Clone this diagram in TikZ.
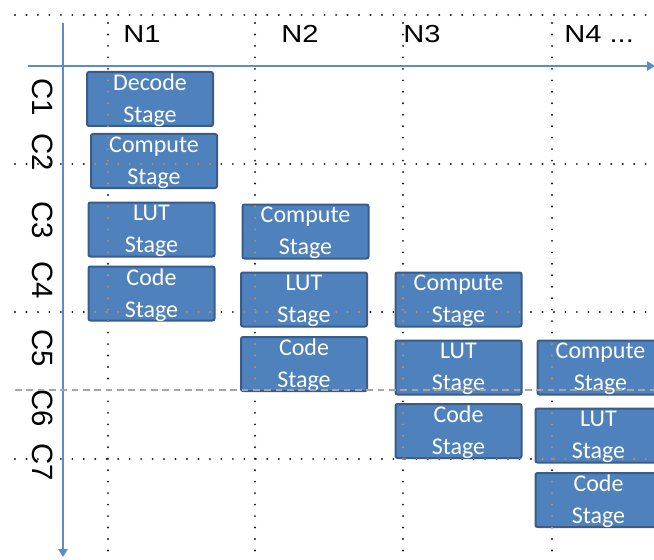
\documentclass[tikz,border=0pt]{standalone}
\usepackage{fontspec}
\setmainfont{Liberation Sans}
\newfontfamily\boxfont{Carlito}
\usetikzlibrary{arrows.meta}
\definecolor{boxfill}{HTML}{4F81BD}
\definecolor{boxedge}{HTML}{385D8A}
\definecolor{axisc}{HTML}{5B8CCB}
\definecolor{gridc}{HTML}{1A1A1A}
\definecolor{gridov}{HTML}{C49052}
\definecolor{dashc}{HTML}{A6A6A6}
\newcommand{\mygrid}[1]{%
  \draw[dotline,#1] (15,15) -- (654,15);
  \draw[dotline,#1] (15,164) -- (654,164);
  \draw[dotline,#1] (15,312) -- (654,312);
  \draw[dotline,#1] (15,459) -- (654,459);
  \foreach \gx in {108,255,403,552} \draw[dotline,#1] (\gx,23) -- (\gx,560);
}
\begin{document}
\begin{tikzpicture}[x=0.75pt,y=-0.75pt,
  dotline/.style={line width=1.6pt,dash pattern=on 0pt off 8.6pt,line cap=round},
  stagebox/.style={draw=boxedge,fill=boxfill,line width=1.5pt,rounded corners=1.5pt,
    minimum width=94.5pt,minimum height=40.5pt,inner sep=0pt},
  stagetext/.style={text=white,align=center,inner sep=0pt,yshift=-1pt,
    font=\boxfont\fontsize{18}{24}\selectfont},
  axisline/.style={draw=axisc,line width=1.5pt,-{Triangle[width=7pt,length=6pt]}},
  nlabel/.style={font=\fontsize{18.5}{20}\selectfont,anchor=base west,inner sep=0pt,xscale=1.18},
  clabel/.style={font=\fontsize{22}{24}\selectfont,rotate=-90,inner sep=0pt}]
\useasboundingbox (0,0) rectangle (654,560);
\clip (0,0) rectangle (654,560);
\fill[white] (0,0) rectangle (654,560);

% background dotted grid
\mygrid{gridc}

% axes
\coordinate (hx0) at (28,66);
\coordinate (hx1) at (655,66);
\coordinate (vy0) at (63,23);
\coordinate (vy1) at (63,557);
\draw[axisline] (hx0) -- (hx1);
\draw[axisline] (vy0) -- (vy1);

% column labels
\node[nlabel] (n1) at (123,43) {N1};
\node[nlabel] (n2) at (281,43) {N2};
\node[nlabel] (n3) at (403,43) {N3};
\node[nlabel] (n4) at (564,43) {N4 ...};

% row labels
\node[clabel] (c1) at (43,97) {C1};
\node[clabel] (c2) at (43,152) {C2};
\node[clabel] (c3) at (43,220) {C3};
\node[clabel] (c4) at (43,280) {C4};
\node[clabel] (c5) at (43,348) {C5};
\node[clabel] (c6) at (43,408) {C6};
\node[clabel] (c7) at (43,462) {C7};

% stage boxes
\node[stagebox] (dec)  at (150,99)    {};
\node[stagebox] (cmp1) at (154,161)   {};
\node[stagebox] (lut1) at (151.5,229.5) {};
\node[stagebox] (cod1) at (151.5,293.5) {};
\node[stagebox] (cmp2) at (305.5,231.5) {};
\node[stagebox] (lut2) at (304,299.5) {};
\node[stagebox] (cod2) at (304,364)   {};
\node[stagebox] (cmp3) at (458.5,299.5) {};
\node[stagebox] (lut3) at (458.5,367.5) {};
\node[stagebox] (cod3) at (458.5,431) {};
\node[stagebox] (cmp4) at (600.5,367.5) {};
\node[stagebox] (lut4) at (598.5,435.5) {};
\node[stagebox] (cod4) at (598.5,500) {};

% grid dots seen over the boxes
\begin{scope}
  \clip (dec.south west) rectangle (dec.north east)
        (cmp1.south west) rectangle (cmp1.north east)
        (lut1.south west) rectangle (lut1.north east)
        (cod1.south west) rectangle (cod1.north east)
        (cmp2.south west) rectangle (cmp2.north east)
        (lut2.south west) rectangle (lut2.north east)
        (cod2.south west) rectangle (cod2.north east)
        (cmp3.south west) rectangle (cmp3.north east)
        (lut3.south west) rectangle (lut3.north east)
        (cod3.south west) rectangle (cod3.north east)
        (cmp4.south west) rectangle (cmp4.north east)
        (lut4.south west) rectangle (lut4.north east)
        (cod4.south west) rectangle (cod4.north east);
  \mygrid{gridov}
\end{scope}

% stage texts
\node[stagetext] (dect)  at (dec)  {Decode\\Stage};
\node[stagetext] (cmp1t) at (cmp1) {Compute\\Stage};
\node[stagetext] (lut1t) at (lut1) {LUT\\Stage};
\node[stagetext] (cod1t) at (cod1) {Code\\Stage};
\node[stagetext] (cmp2t) at (cmp2) {Compute\\Stage};
\node[stagetext] (lut2t) at (lut2) {LUT\\Stage};
\node[stagetext] (cod2t) at (cod2) {Code\\Stage};
\node[stagetext] (cmp3t) at (cmp3) {Compute\\Stage};
\node[stagetext] (lut3t) at (lut3) {LUT\\Stage};
\node[stagetext] (cod3t) at (cod3) {Code\\Stage};
\node[stagetext] (cmp4t) at (cmp4) {Compute\\Stage};
\node[stagetext] (lut4t) at (lut4) {LUT\\Stage};
\node[stagetext] (cod4t) at (cod4) {Code\\Stage};

% dashed separator
\draw[dashc,line width=1pt,dash pattern=on 5pt off 3.5pt] (15,390) -- (654,390);
\end{tikzpicture}
\end{document}
